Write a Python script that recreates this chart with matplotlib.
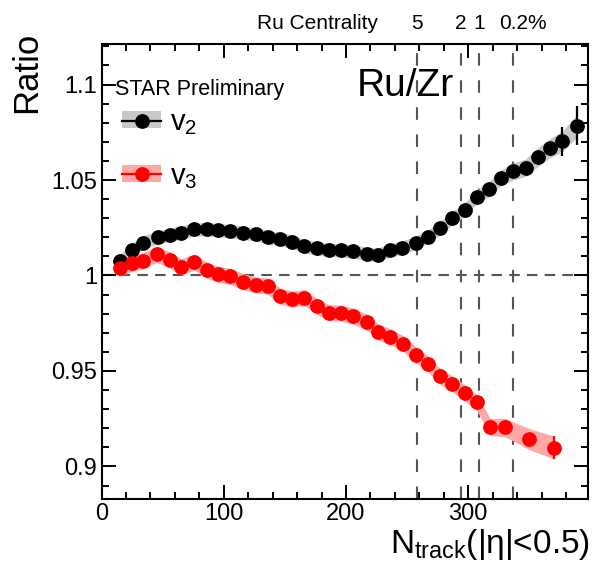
import matplotlib
matplotlib.use("Agg")
import matplotlib.pyplot as plt
import numpy as np
from matplotlib.patches import Rectangle
from matplotlib.lines import Line2D
from matplotlib.legend_handler import HandlerTuple
from matplotlib.ticker import MultipleLocator, FixedLocator, FixedFormatter

plt.rcParams['font.family'] = ['Liberation Sans', 'DejaVu Sans']
plt.rcParams['mathtext.fontset'] = 'custom'
plt.rcParams['mathtext.rm'] = 'Liberation Sans'
plt.rcParams['mathtext.it'] = 'Liberation Sans'
plt.rcParams['mathtext.sf'] = 'Liberation Sans'

# ---------------- data ----------------
v2_x = [15, 25, 34, 46, 56, 65, 76, 86, 95, 105, 116, 126, 136, 146, 156, 166,
        176, 186, 196, 206, 217, 226, 236, 246, 257, 267, 277, 287, 297, 307,
        317, 327, 337, 347, 357, 367, 377, 389]
v2_y = [1.0078, 1.0133, 1.0172, 1.0199, 1.0213, 1.0225, 1.0241, 1.0242, 1.0238,
        1.0232, 1.0224, 1.0215, 1.0201, 1.0191, 1.0178, 1.0152, 1.0143, 1.0135,
        1.0131, 1.0126, 1.0114, 1.0108, 1.0131, 1.0146, 1.0170, 1.0204, 1.0248,
        1.0301, 1.0344, 1.0410, 1.0452, 1.0513, 1.0545, 1.0565, 1.0620, 1.0667,
        1.0702, 1.0784]
v2_stat = [0.002] * 36 + [0.0075, 0.0102]
v2_sys = [0.0035] * 30 + [0.004, 0.004, 0.0045, 0.0045, 0.005, 0.005, 0.0055, 0.006]

v3_x = [15, 25, 34, 45, 56, 65, 76, 86, 95, 105, 116, 126, 136, 146, 156, 166,
        176, 186, 196, 206, 217, 226, 236, 247, 257, 267, 277, 287, 297, 307,
        318, 330, 350, 370]
v3_y = [1.0039, 1.0063, 1.0077, 1.0111, 1.0082, 1.0045, 1.0070, 1.0028, 1.0006,
        0.9996, 0.9967, 0.9951, 0.9944, 0.9891, 0.9876, 0.9884, 0.9839, 0.9805,
        0.9803, 0.9787, 0.9756, 0.9705, 0.9680, 0.9642, 0.9585, 0.9538, 0.9471,
        0.9433, 0.9385, 0.9335, 0.9206, 0.9204, 0.9143, 0.9099]
v3_stat = [0.002] * 33 + [0.0062]
v3_sys = [0.0042] * 30 + [0.0045, 0.0048, 0.0055, 0.006]

cent_x = [258, 294, 309, 337]
cent_labels = ["5", "2", "1", "0.2%"]

yticks = [0.9, 0.95, 1.0, 1.05, 1.1]
ytick_labels = ["0.9", "0.95", "1", "1.05", "1.1"]
xticks = [0, 100, 200, 300]
xtick_labels = ["0", "100", "200", "300"]

# ---------------- figure ----------------
W, H = 595, 566
fig = plt.figure(figsize=(W / 100, H / 100), dpi=100)
L, R, B, T = 101.5, 588, 498.5, 43.5
ax = fig.add_axes([L / W, 1 - B / H, (R - L) / W, (B - T) / H])
YMIN, YMAX = 0.8832, 1.1215
ax.set_xlim(0, 398)
ax.set_ylim(YMIN, YMAX)

grey_band = '#c8c8c8'
pink_band = '#ffa8a8'

# reference lines
ax.axhline(1.0, color='#555555', lw=1.5, dashes=(5, 3.5), zorder=1)
for cx in cent_x:
    ax.axvline(cx, color='#555555', lw=1.5, dashes=(6, 7), zorder=1)

v2_x_a = np.array(v2_x); v2_y_a = np.array(v2_y); v2_sys_a = np.array(v2_sys)
v3_x_a = np.array(v3_x); v3_y_a = np.array(v3_y); v3_sys_a = np.array(v3_sys)

ax.fill_between(v2_x_a, v2_y_a - v2_sys_a, v2_y_a + v2_sys_a, color=grey_band,
                lw=0, zorder=2)
ax.fill_between(v3_x_a, v3_y_a - v3_sys_a, v3_y_a + v3_sys_a, color=pink_band,
                lw=0, zorder=2)

ax.errorbar(v2_x, v2_y, yerr=v2_stat, fmt='o', color='black', ms=9.6,
            elinewidth=1.6, capsize=0, zorder=4)
ax.errorbar(v3_x, v3_y, yerr=v3_stat, fmt='o', color='red', ms=9.6,
            elinewidth=1.6, capsize=0, zorder=4)

# ticks
ax.xaxis.set_major_locator(FixedLocator(xticks))
ax.xaxis.set_major_formatter(FixedFormatter(xtick_labels))
ax.xaxis.set_minor_locator(MultipleLocator(20))
ax.yaxis.set_major_locator(FixedLocator(yticks))
ax.yaxis.set_major_formatter(FixedFormatter(ytick_labels))
ax.yaxis.set_minor_locator(MultipleLocator(0.01))
ax.tick_params(which='both', direction='in', top=True, right=True, width=1.4,
               labelsize=17, pad=3)
ax.tick_params(which='major', length=10)
ax.tick_params(which='minor', length=5)
for s in ax.spines.values():
    s.set_linewidth(1.5)

# top centrality labels
ty = YMAX + 0.0105
ax.text(226, ty, "Ru Centrality", ha='right', va='center', fontsize=15)
for cx, lab in zip(cent_x, cent_labels):
    if lab.endswith('%'):
        ax.text(cx - 12, ty, lab, ha='left', va='center', fontsize=15)
    else:
        ax.text(cx, ty, lab, ha='center', va='center', fontsize=15)

ax.text(11, 1.0975, "STAR Preliminary", ha='left', va='center', fontsize=15.5)
ax.text(209, 1.0995, "Ru/Zr", ha='left', va='center', fontsize=28)

# legend
h2 = (Rectangle((0, 0), 1, 1, facecolor=grey_band, edgecolor='none'),
      Line2D([], [], color='black', lw=1.6, marker='o', ms=9.6))
h3 = (Rectangle((0, 0), 1, 1, facecolor=pink_band, edgecolor='none'),
      Line2D([], [], color='red', lw=1.6, marker='o', ms=9.6))
ax.legend([h2, h3], [r'v$_{2}$', r'v$_{3}$'],
          handler_map={tuple: HandlerTuple(ndivide=1)},
          loc='upper left', bbox_to_anchor=(0.012, 0.89), frameon=False,
          fontsize=21, handlelength=1.35, handleheight=0.5, handletextpad=0.3,
          labelspacing=0.85, borderpad=0)

fig.text(27 / W, 1 - 113 / H, "Ratio", rotation=90, ha='center', va='bottom',
         fontsize=25)
fig.text(590 / W, 1 - 553 / H, r'N$_{\mathrm{track}}$(|η|<0.5)', ha='right',
         va='baseline', fontsize=24)

fig.savefig("out.png", dpi=100)
